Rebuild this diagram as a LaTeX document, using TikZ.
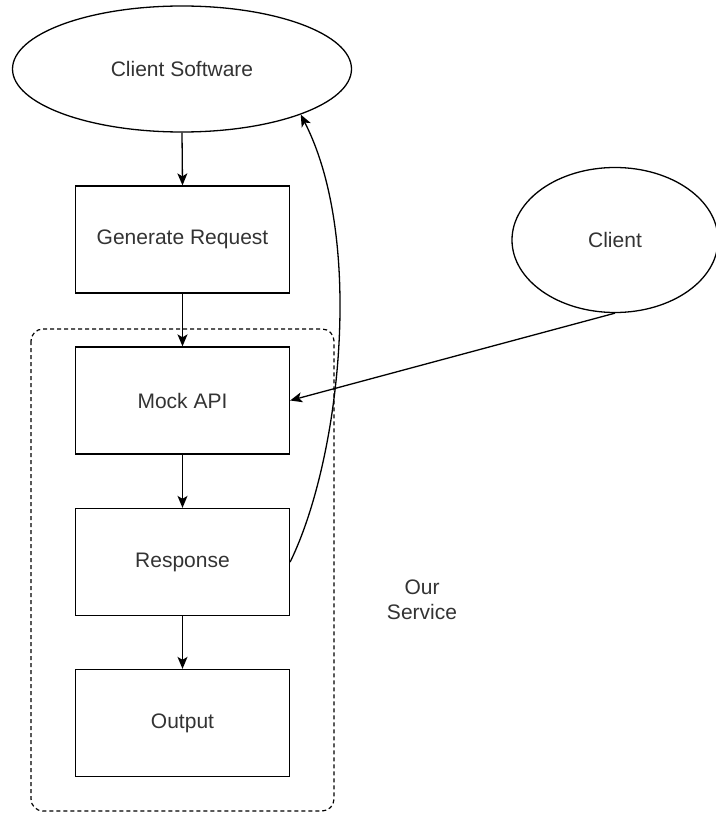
\documentclass[tikz,border=0pt]{standalone}
\usepackage{fontspec}
\setmainfont{Liberation Sans}
\usetikzlibrary{shapes.geometric,arrows.meta}
\definecolor{txt}{HTML}{333333}
\tikzset{
  every node/.style={font=\fontsize{21}{25}\selectfont, text=txt, align=center},
  boxnode/.style={draw, line width=1.3pt, rectangle, inner sep=0pt, minimum width=214pt, minimum height=107pt},
  ovalnode/.style={draw, line width=1.3pt, ellipse, inner sep=0pt},
  conn/.style={line width=1.3pt, -{Stealth[length=12pt,width=10pt,inset=3pt]}},
  groupbox/.style={line width=1.2pt, dash pattern=on 4pt off 3pt, rounded corners=12pt}
}
\begin{document}
\begin{tikzpicture}[x=1pt,y=-1pt]
\useasboundingbox (0,0) rectangle (715,813);
\draw[groupbox] (31,329) rectangle (334,811);
\node[ovalnode, minimum width=339pt, minimum height=126pt] (cs) at (182,69) {Client Software};
\node[boxnode] (gen) at (182.5,239.5) {Generate Request};
\node[boxnode] (mock) at (182.5,400.5) {Mock API};
\node[boxnode] (resp) at (182.5,562) {Response};
\node[boxnode] (out) at (182.5,723) {Output};
\node[ovalnode, minimum width=206pt, minimum height=145pt] (client) at (615,240) {Client};
\node (svc) at (422,600) {Our\\Service};
\draw[conn] (cs.south) -- (gen.north);
\draw[conn] (gen.south) -- (mock.north);
\draw[conn] (mock.south) -- (resp.north);
\draw[conn] (resp.south) -- (out.north);
\draw[conn] (client.south) -- (mock.east);
\draw[conn] (resp.east) .. controls (340,460) and (365,240) .. (cs.-21);
\end{tikzpicture}
\end{document}
